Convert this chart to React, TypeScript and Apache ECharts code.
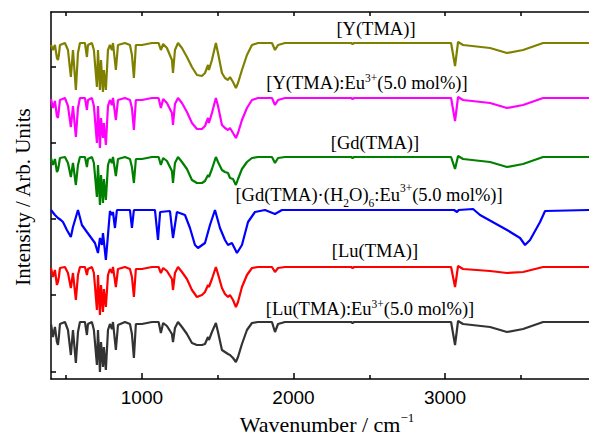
import React, { useEffect, useRef } from "react";
import * as echarts from "echarts";

// Wavenumber grid (cm^-1) shared by the anhydrous TMA complexes
const WN_TMA = [400, 413, 426, 439, 446, 452, 459, 492, 512, 531, 545, 564, 578, 591, 624, 637, 644, 670, 683, 703, 710, 723, 730, 743, 749, 762, 776, 789, 802, 809, 828, 842, 888, 921, 934, 947, 960, 1000, 1066, 1110, 1125, 1140, 1165, 1198, 1205, 1218, 1238, 1264, 1297, 1330, 1363, 1396, 1416, 1436, 1442, 1462, 1488, 1502, 1528, 1548, 1568, 1581, 1601, 1620, 1634, 1660, 1693, 1726, 1766, 1858, 1878, 1898, 1944, 2380, 2390, 2400, 3040, 3066, 3086, 3119, 3297, 3409, 3515, 3647, 3950];

// Absorption depth (arb. units) for each spectrum
const Y_TMA = [2, 7, 2, 15, 17, 12, 2, 0, 7, 34, 7, 47, 10, 0, 0, 14, 2, 0, 7, 44, 7, 47, 17, 49, 27, 47, 7, 2, 7, 0, 27, 2, 0, 2, 12, 35, 2, 2, 0, 0, 7, 1, 5, 17, 30, 7, 0, 5, 14, 24, 32, 33, 30, 22, 27, 17, 0, 10, 30, 35, 37, 34, 39, 45, 40, 27, 12, 2, 0, 0, 7, 2, 0, 0, 1, 0, 0, 23, -1, 2, 5, 10, 7, 0, 0];
const Y_TMA_EU = [1, 10, 3, 18, 20, 12, 2, 0, 8, 29, 8, 39, 10, 0, 0, 12, 2, 0, 8, 45, 8, 50, 20, 40, 25, 47, 8, 2, 7, 0, 22, 2, 0, 2, 10, 32, 2, 2, 0, 0, 10, 1, 5, 15, 27, 6, 0, 5, 14, 25, 31, 31, 28, 20, 25, 15, 0, 8, 27, 30, 32, 30, 35, 40, 35, 22, 10, 2, 0, 0, 7, 2, 0, 0, 1, 0, 0, 23, -1, 2, 5, 10, 7, 0, 0];
const GD_TMA = [1, 8, 2, 15, 13, 8, 1, 0, 6, 20, 6, 28, 8, 0, 0, 10, 2, 0, 6, 40, 8, 48, 18, 46, 22, 43, 8, 2, 6, 0, 19, 2, 0, 2, 10, 26, 2, 2, 0, 0, 8, 1, 4, 14, 26, 6, 0, 5, 12, 23, 26, 26, 24, 18, 20, 12, 0, 5, 13, 15, 16, 21, 22, 28, 22, 12, 5, 1, 0, 0, 6, 1, 0, 0, 1, 0, 0, 12, -1, 2, 5, 10, 7, 0, 0];
const LU_TMA = [1, 10, 3, 18, 15, 10, 1, 0, 6, 21, 6, 33, 8, 0, 0, 8, 2, 0, 6, 43, 8, 48, 18, 45, 22, 40, 8, 2, 6, 0, 20, 2, 0, 2, 10, 30, 2, 2, 0, 0, 6, 1, 4, 12, 23, 6, 0, 5, 12, 23, 30, 28, 25, 18, 20, 12, 0, 7, 21, 27, 30, 28, 33, 40, 35, 20, 8, 1, 0, 0, 5, 1, 0, 0, 1, 0, 0, 20, -1, 2, 4, 6, 5, 0, 0];
const LU_TMA_EU = [2, 15, 5, 20, 23, 15, 2, 0, 8, 33, 8, 41, 10, 0, 0, 13, 2, 0, 8, 43, 8, 50, 20, 45, 25, 48, 8, 2, 7, 0, 28, 3, 0, 2, 12, 36, 2, 2, 0, 0, 11, 1, 4, 12, 20, 6, 0, 5, 12, 21, 23, 23, 22, 15, 18, 10, 1, 10, 28, 30, 32, 33, 36, 40, 35, 22, 8, 1, 0, 0, 10, 2, 0, 0, 1, 0, 0, 23, -1, 2, 5, 10, 7, 0, 0];

// Hydrated Gd complex has its own grid
const WN_GD_H2O = [400, 426, 446, 465, 479, 505, 531, 545, 578, 604, 637, 690, 710, 723, 736, 743, 762, 776, 789, 802, 809, 822, 835, 921, 934, 947, 1086, 1106, 1120, 1185, 1205, 1231, 1284, 1317, 1350, 1370, 1416, 1449, 1482, 1515, 1548, 1568, 1594, 1627, 1660, 1700, 1746, 1812, 1878, 1924, 3060, 3079, 3090, 3185, 3231, 3409, 3495, 3528, 3561, 3627, 3660, 3950];
const GD_H2O_EU = [0, 5, 8, 10, 12, 20, 27, 17, 0, 15, 22, 33, 43, 28, 35, 23, 50, 25, 1, 5, 2, 18, 0, 0, 18, 0, 0, 30, 2, 1, 28, 2, 5, 18, 35, 38, 33, 15, 0, 18, 30, 35, 33, 43, 35, 12, 2, 0, 4, 0, 0, 2, 0, -1, 5, 20, 28, 35, 30, 12, 1, 0];

// Vertical stacking offsets of each trace
const OFFSETS = [336, 281, 222, 169, 112, 57];
const COLORS = ["#808000", "#ff00ff", "#008000", "#0000ff", "#ff0000", "#333333"];
const NAMES = [
  "[Y(TMA)]",
  "[Y(TMA):Eu{sup|3+}(5.0 mol%)]",
  "[Gd(TMA)]",
  "[Gd(TMA)·(H{sub|2}O){sub|6}:Eu{sup|3+}(5.0 mol%)]",
  "[Lu(TMA)]",
  "[Lu(TMA):Eu{sup|3+}(5.0 mol%)]",
];

const X_MAJOR = [1000, 2000, 3000];
const X_MINOR = [500, 1500, 2500, 3500];
const X_ALL = [500, 1000, 1500, 2000, 2500, 3000, 3500];
const Y_TICKS = [7, 84, 160, 236, 312];

const SERIF = '"Liberation Serif", "Times New Roman", serif';

export default function App() {
  const ref = useRef<HTMLDivElement>(null);
  useEffect(() => {
    if (!ref.current) return;
    const chart = echarts.init(ref.current, undefined, { renderer: "svg" });
    const spectra = [
      { wn: WN_TMA, d: Y_TMA },
      { wn: WN_TMA, d: Y_TMA_EU },
      { wn: WN_TMA, d: GD_TMA },
      { wn: WN_GD_H2O, d: GD_H2O_EU },
      { wn: WN_TMA, d: LU_TMA },
      { wn: WN_TMA, d: LU_TMA_EU },
    ];
    const labelPos = [
      [376, 29],
      [367, 83],
      [375, 143],
      [369, 195],
      [375, 251],
      [370, 309],
    ];
    const rich = {
      sup: { fontSize: 11.5, fontFamily: SERIF, verticalAlign: "top", lineHeight: 22, fill: "#000" },
      sub: { fontSize: 11.5, fontFamily: SERIF, verticalAlign: "bottom", lineHeight: 27, fill: "#000" },
    };
    const axisLineStyle = { color: "#000", width: 1.5 };
    chart.setOption({
      animation: false,
      grid: { left: 51, right: 0, top: 12, bottom: 56, containLabel: false },
      xAxis: [
        {
          type: "value",
          position: "bottom",
          min: 400,
          max: 3950,
          axisLine: { show: true, lineStyle: axisLineStyle },
          axisTick: { show: true, inside: true, length: 6, customValues: X_MAJOR, lineStyle: { color: "#000", width: 1.5 } },
          axisLabel: {
            show: true,
            customValues: X_MAJOR,
            formatter: (v: number) => String(v),
            margin: 9,
            fontFamily: '"Liberation Sans", Arial, sans-serif',
            fontSize: 19,
            color: "#000",
          },
          splitLine: { show: false },
        },
        {
          type: "value",
          position: "bottom",
          min: 400,
          max: 3950,
          axisLine: { show: false },
          axisTick: { show: true, inside: true, length: 4, customValues: X_MINOR, lineStyle: { color: "#000", width: 1.5 } },
          axisLabel: { show: false },
          splitLine: { show: false },
        },
        {
          type: "value",
          position: "top",
          min: 400,
          max: 3950,
          axisLine: { show: true, lineStyle: axisLineStyle },
          axisTick: { show: true, inside: true, length: 4, customValues: X_ALL, lineStyle: { color: "#000", width: 1.5 } },
          axisLabel: { show: false },
          splitLine: { show: false },
        },
      ],
      yAxis: {
        type: "value",
        min: 0,
        max: 367,
        axisLine: { show: true, lineStyle: axisLineStyle },
        axisTick: { show: true, inside: true, length: 5, customValues: Y_TICKS, lineStyle: { color: "#000", width: 1.5 } },
        axisLabel: { show: false },
        splitLine: { show: false },
      },
      series: spectra.map((s, k) => ({
        type: "line",
        xAxisIndex: 0,
        showSymbol: false,
        symbol: "none",
        lineStyle: { color: COLORS[k], width: 2.2 },
        itemStyle: { color: COLORS[k] },
        data: s.wn.map((w, i) => [w, OFFSETS[k] - s.d[i]]),
        z: 2 + k,
      })),
      graphic: [
        ...NAMES.map((n, k) => ({
          type: "text",
          x: labelPos[k][0],
          y: labelPos[k][1],
          z: 100,
          style: {
            text: n,
            rich,
            fontFamily: SERIF,
            fontSize: 18.5,
            fill: "#000",
            align: "center",
            verticalAlign: "middle",
            textAlign: "center",
            textVerticalAlign: "middle",
          },
        })),
        {
          type: "text",
          x: 327,
          y: 424,
          style: {
            text: "Wavenumber / cm{sup|−1}",
            rich: { sup: { fontSize: 13, fontFamily: SERIF, verticalAlign: "top", lineHeight: 26, fill: "#000" } },
            fontFamily: SERIF,
            fontSize: 22,
            fill: "#000",
            align: "center",
            verticalAlign: "middle",
            textAlign: "center",
            textVerticalAlign: "middle",
          },
        },
        {
          type: "text",
          x: 23,
          y: 197,
          rotation: Math.PI / 2,
          style: {
            text: "Intensity / Arb. Units",
            fontFamily: SERIF,
            fontSize: 21,
            fill: "#000",
            align: "center",
            verticalAlign: "middle",
            textAlign: "center",
            textVerticalAlign: "middle",
          },
        },
      ],
    });
    return () => chart.dispose();
  }, []);
  return (
    <div
      ref={ref}
      style={{ position: "absolute", left: 0, top: 0, width: 589, height: 435, background: "#fff" }}
    />
  );
}
